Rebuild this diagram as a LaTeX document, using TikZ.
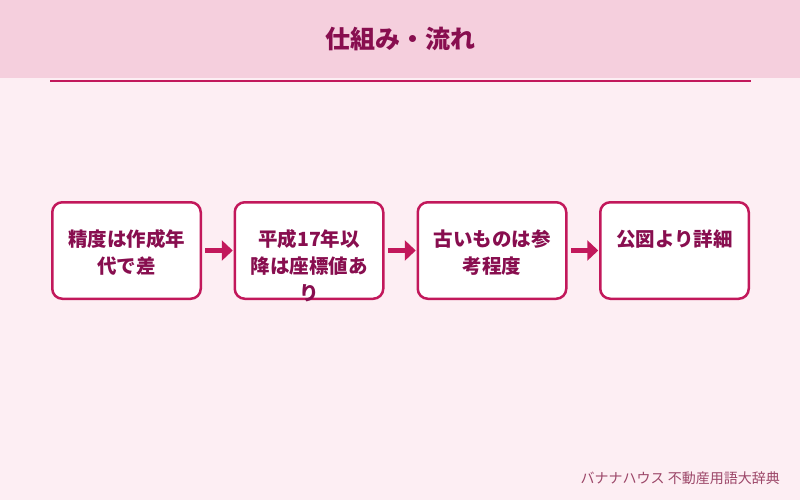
\documentclass[tikz,border=0pt]{standalone}
\usepackage{fontspec}
\setmainfont{Noto Sans CJK JP}
\usetikzlibrary{arrows.meta}
\definecolor{bgpink}{HTML}{FDEEF3}
\definecolor{headpink}{HTML}{F5CFDD}
\definecolor{accent}{HTML}{C2185B}
\definecolor{darktext}{HTML}{880E4F}
\definecolor{foottext}{HTML}{9C4668}
\tikzset{
  stepbox/.style={draw=accent, fill=white, line width=2.5pt, rounded corners=10pt,
    minimum width=148.5pt, minimum height=96.5pt, inner sep=0pt, outer sep=0pt},
  steptext/.style={anchor=north, inner sep=0pt, align=center, text=darktext,
    font=\fontsize{19.5}{27}\selectfont\bfseries},
  flowarrow/.style={draw=accent, line width=4.5pt, -{Triangle[length=11pt,width=20pt]},
    shorten <=4.5pt, shorten >=2pt}
}
\begin{document}
\begin{tikzpicture}[x=1pt,y=-1pt]
\useasboundingbox (0,0) rectangle (800,500);
\fill[bgpink] (0,0) rectangle (800,500);
\fill[headpink] (0,0) rectangle (800,78);
\node[text=darktext, font=\fontsize{25}{30}\selectfont\bfseries, inner sep=0pt] (title) at (400,39) {仕組み・流れ};
\coordinate (ruleL) at (50,81);
\coordinate (ruleR) at (751,81);
\draw[accent, line width=2pt] (ruleL) -- (ruleR);

\node[stepbox] (b1) at (126.5,250.5) {};
\node[stepbox] (b2) at (309,250.5) {};
\node[stepbox] (b3) at (492,250.5) {};
\node[stepbox] (b4) at (674.5,250.5) {};

\node[steptext] (t1) at (126.5,229.5) {精度は作成年\\代で差};
\node[steptext] (t2) at (309,229.5) {平成17年以\\降は座標値あ\\り};
\node[steptext] (t3) at (492,229.5) {古いものは参\\考程度};
\node[steptext] (t4) at (674.5,229.5) {公図より詳細};

\draw[flowarrow] (b1.east) -- (b2.west);
\draw[flowarrow] (b2.east) -- (b3.west);
\draw[flowarrow] (b3.east) -- (b4.west);

\node[anchor=base east, inner sep=0pt, text=foottext, font=\fontsize{14}{16}\selectfont] (foot) at (780,483.5) {バナナハウス 不動産用語大辞典};
\end{tikzpicture}
\end{document}
